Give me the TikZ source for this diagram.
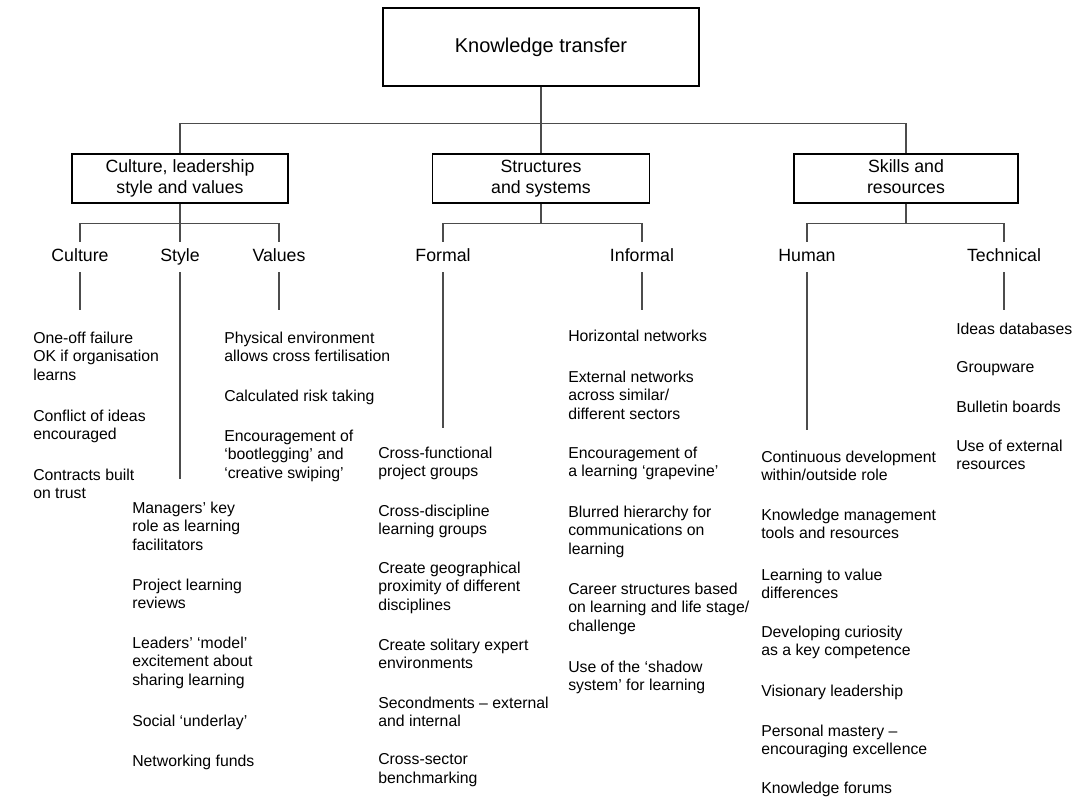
\documentclass[tikz,border=0pt]{standalone}
\usepackage{fontspec}
\setmainfont{Liberation Sans}
\usetikzlibrary{positioning}

\begin{document}
\begin{tikzpicture}[x=0.75pt, y=-0.75pt,
    box/.style={draw, line width=0.9pt, inner sep=0pt, align=center},
    head/.style={font=\fontsize{13.3}{15.75}\selectfont, minimum height=22.5pt,
      text height=9.6pt, text depth=2.8pt, inner sep=0pt},
    item/.style={anchor=north west, inner sep=0pt, align=left,
      font=\fontsize{11.85}{13.9}\selectfont},
    link/.style={line width=0.8pt, black!70}]
  \useasboundingbox (0,0) rectangle (1085,811);

  % top and second level
  \node[box, minimum width=237pt, minimum height=58.5pt, font=\fontsize{15}{18}\selectfont]
    (kt) at (541,47) {Knowledge transfer};
  \node[box, minimum width=162pt, minimum height=36.75pt, font=\fontsize{13.3}{15.75}\selectfont]
    (clsv) at (180,178.5) {\strut Culture, leadership\\style and values\strut};
  \node[box, minimum width=163pt, minimum height=36.75pt, font=\fontsize{13.3}{15.75}\selectfont]
    (sas) at (541,178.5) {\strut Structures\\and systems\strut};
  \node[box, minimum width=168pt, minimum height=36.75pt, font=\fontsize{13.3}{15.75}\selectfont]
    (sar) at (906,178.5) {\strut Skills and\\resources\strut};

  \draw[link] (kt.south) -- ++(0,37) coordinate (hub);
  \draw[link] (clsv.north) |- (hub) -| (sar.north);
  \draw[link] (hub) -- (sas.north);

  % third level
  \node[head] (culture) at (80,257) {Culture};
  \node[head] (style) at (180,257) {Style};
  \node[head] (values) at (279,257) {Values};
  \node[head] (formal) at (443,257) {Formal};
  \node[head] (informal) at (642,257) {Informal};
  \node[head] (human) at (807,257) {Human};
  \node[head] (technical) at (1004,257) {Technical};

  \draw[link] (clsv.south) -- ++(0,20) coordinate (cj);
  \draw[link] (culture.north) |- (cj) -| (values.north);
  \draw[link] (cj) -- (style.north);
  \draw[link] (sas.south) -- ++(0,20) coordinate (sj);
  \draw[link] (formal.north) |- (sj) -| (informal.north);
  \draw[link] (sar.south) -- ++(0,20) coordinate (rj);
  \draw[link] (human.north) |- (rj) -| (technical.north);

  % culture
  \node[item] (cu1) at (33,331.5) {One-off failure\\OK if organisation\\learns};
  \node[item] (cu2) at (33,409.5) {Conflict of ideas\\encouraged};
  \node[item] (cu3) at (33,468.5) {Contracts built\\on trust};
  % style
  \node[item] (st1) at (132,501.5) {Managers’ key\\role as learning\\facilitators};
  \node[item] (st2) at (132,578.5) {Project learning\\reviews};
  \node[item] (st3) at (132,636.5) {Leaders’ ‘model’\\excitement about\\sharing learning};
  \node[item] (st4) at (132,714.5) {Social ‘underlay’};
  \node[item] (st5) at (132,754.5) {Networking funds};
  % values
  \node[item] (va1) at (224,331.5) {Physical environment\\allows cross fertilisation};
  \node[item] (va2) at (224,389.5) {Calculated risk taking};
  \node[item] (va3) at (224,429.5) {Encouragement of\\‘bootlegging’ and\\‘creative swiping’};
  % formal
  \node[item] (fo1) at (378,446.5) {Cross-functional\\project groups};
  \node[item] (fo2) at (378,504.5) {Cross-discipline\\learning groups};
  \node[item] (fo3) at (378,561.5) {Create geographical\\proximity of different\\disciplines};
  \node[item] (fo4) at (378,638.5) {Create solitary expert\\environments};
  \node[item] (fo5) at (378,696.5) {Secondments -- external\\and internal};
  \node[item] (fo6) at (378,753.5) {Cross-sector\\benchmarking};
  % informal
  \node[item] (in1) at (568,329.5) {Horizontal networks};
  \node[item] (in2) at (568,370.5) {External networks\\across similar/\\different sectors};
  \node[item] (in3) at (568,446.5) {Encouragement of\\a learning ‘grapevine’};
  \node[item] (in4) at (568,505.5) {Blurred hierarchy for\\communications on\\learning};
  \node[item] (in5) at (568,582.5) {Career structures based\\on learning and life stage/\\challenge};
  \node[item] (in6) at (568,660.5) {Use of the ‘shadow\\system’ for learning};
  % human
  \node[item] (hu1) at (761,450.5) {Continuous development\\within/outside role};
  \node[item] (hu2) at (761,508.5) {Knowledge management\\tools and resources};
  \node[item] (hu3) at (761,568.5) {Learning to value\\differences};
  \node[item] (hu4) at (761,625.5) {Developing curiosity\\as a key competence};
  \node[item] (hu5) at (761,684.5) {Visionary leadership};
  \node[item] (hu6) at (761,724.5) {Personal mastery --\\encouraging excellence};
  \node[item] (hu7) at (761,781.5) {Knowledge forums};
  % technical
  \node[item] (te1) at (956,322.5) {Ideas databases};
  \node[item] (te2) at (956,361.5) {Groupware};
  \node[item] (te3) at (956,400.5) {Bulletin boards};
  \node[item] (te4) at (956,439.5) {Use of external\\resources};

  \draw[link, shorten >=16pt] (culture.south) -- (culture.south |- cu1.north);
  \draw[link, shorten >=17pt] (style.south) -- (style.south |- st1.north);
  \draw[link, shorten >=16pt] (values.south) -- (values.south |- va1.north);
  \draw[link, shorten >=14pt] (formal.south) -- (formal.south |- fo1.north);
  \draw[link, shorten >=14.5pt] (informal.south) -- (informal.south |- in1.north);
  \draw[link, shorten >=15.4pt] (human.south) -- (human.south |- hu1.north);
  \draw[link, shorten >=9.4pt] (technical.south) -- (technical.south |- te1.north);
\end{tikzpicture}
\end{document}
